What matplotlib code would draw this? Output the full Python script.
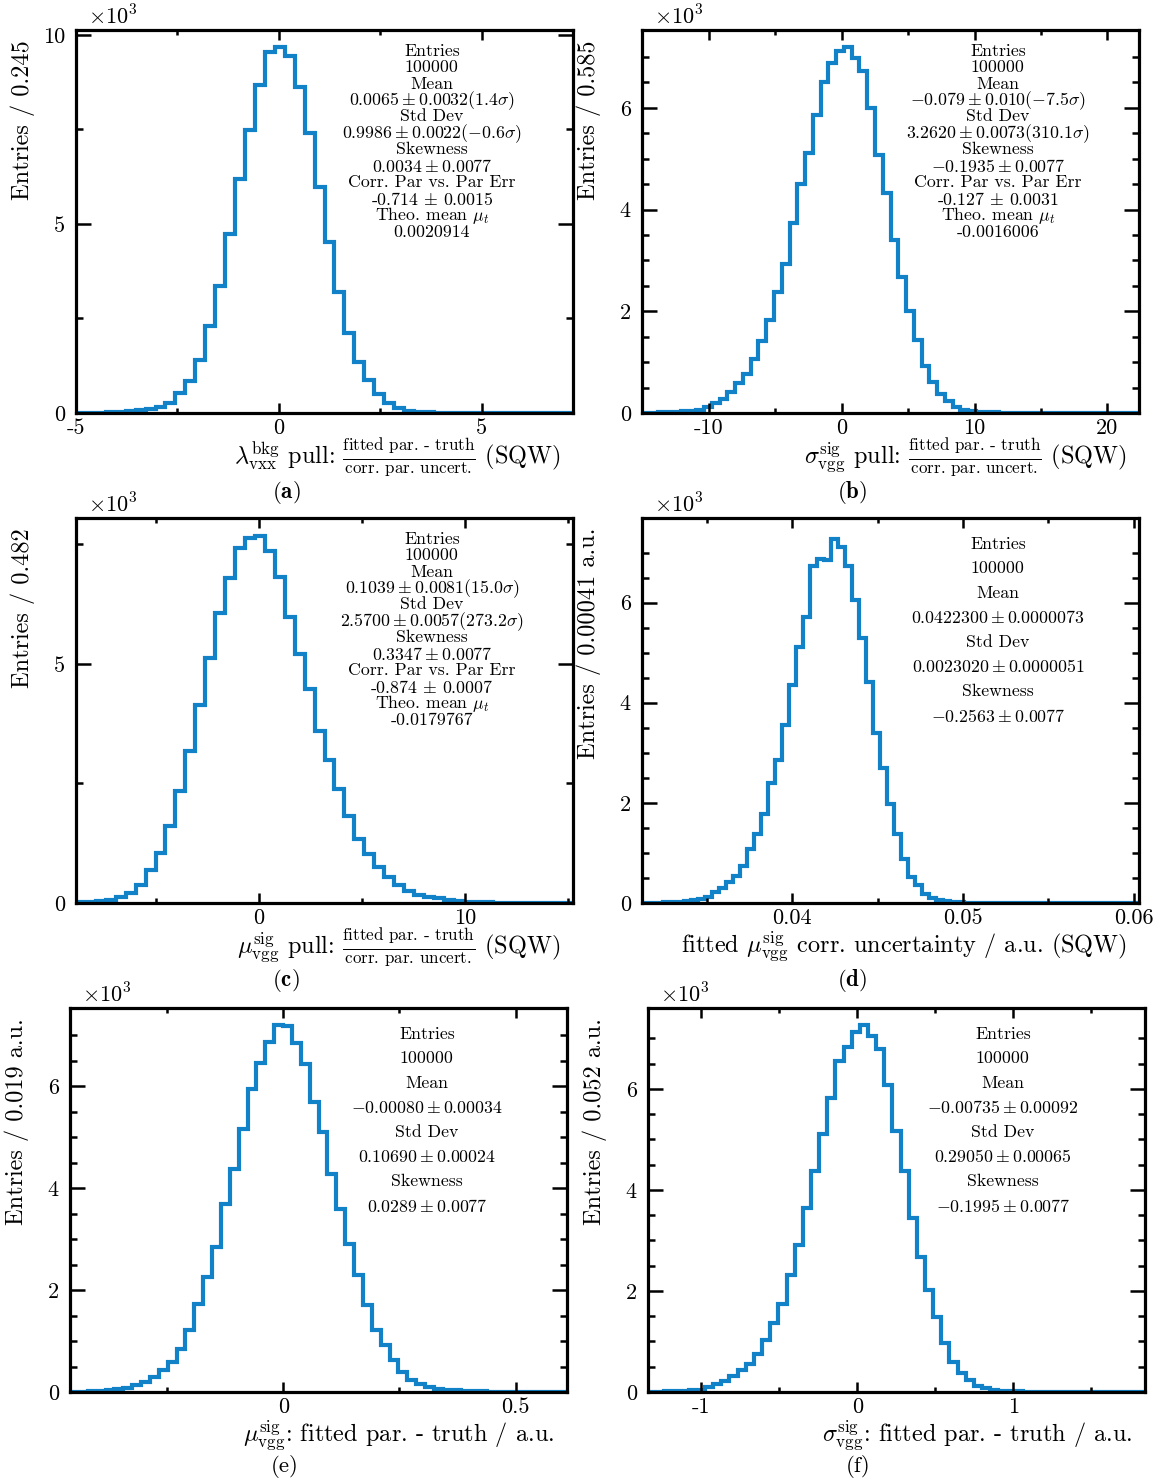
import matplotlib
matplotlib.use("Agg")
import matplotlib.pyplot as plt
import numpy as np

plt.rcParams["font.family"] = "cmr10"
plt.rcParams["mathtext.fontset"] = "cm"
plt.rcParams["axes.unicode_minus"] = False
plt.rcParams["axes.formatter.use_mathtext"] = True

W, H = 1171, 1481
BLUE = "#1282c8"

# ---------------------------------------------------------------------------
# data: entries per bin (x 10^3), first bin edge and bin width
# ---------------------------------------------------------------------------
a_counts = [0.003, 0.005, 0.01, 0.02, 0.03, 0.04,
            0.08, 0.1, 0.17, 0.26, 0.52, 0.85, 1.40, 2.30, 3.36, 4.73,
            6.20, 7.49, 8.68, 9.56, 9.67, 9.43, 8.61, 7.40, 5.97, 4.53,
            3.21, 2.11, 1.36, 0.87, 0.49, 0.26, 0.12, 0.05,
            0.03, 0.02, 0.01, 0.005, 0.003, 0.002, 0.001, 0.001,
            0, 0, 0, 0, 0, 0, 0, 0]
a_xmin, a_binw = -5.0, 0.245

b_counts = [0.005, 0.008, 0.01, 0.015, 0.02, 0.03, 0.04, 0.06,
            0.12, 0.2, 0.28, 0.41, 0.58, 0.77, 1.07, 1.41, 1.82, 2.37,
            2.93, 3.73, 4.5, 5.12, 5.85, 6.5, 6.88, 7.11, 7.19, 6.98,
            6.73, 6.0, 5.07, 4.32, 3.4, 2.68, 2.0, 1.44, 0.93, 0.6,
            0.37, 0.24, 0.12, 0.06, 0.03,
            0.02, 0.01, 0.01, 0.005, 0.003, 0.002, 0.001, 0.001,
            0, 0, 0, 0, 0, 0, 0, 0, 0, 0, 0, 0, 0]
b_xmin, b_binw = -15.05, 0.585

c_counts = [0.02, 0.03, 0.04, 0.06, 0.13, 0.2, 0.38, 0.68, 1.04, 1.6,
            2.35, 3.18, 4.14, 5.12, 6.06, 6.8, 7.42, 7.63, 7.68, 7.36,
            6.81, 5.99, 5.21, 4.47, 3.6, 2.98, 2.38, 1.82, 1.33, 1.02,
            0.76, 0.54, 0.38, 0.25, 0.17, 0.13, 0.1, 0.06,
            0.04, 0.03, 0.02, 0.015, 0.01, 0.01, 0.005, 0.005, 0.003,
            0.002, 0.001, 0.001]
c_xmin, c_binw = -8.88, 0.482

d_counts = [0.003, 0.005, 0.008, 0.01, 0.015, 0.02, 0.03, 0.05, 0.08,
            0.11, 0.21, 0.29, 0.41, 0.53, 0.74, 1.08, 1.37, 1.77, 2.4,
            2.86, 3.55, 4.35, 5.11, 5.72, 6.74, 6.87, 6.85, 7.28, 7.12,
            6.74, 6.06, 5.29, 4.42, 3.4, 2.69, 1.97, 1.37, 0.88, 0.51,
            0.36, 0.18, 0.1, 0.05,
            0.03, 0.02, 0.01, 0.005, 0.003, 0.002, 0.001,
            0, 0, 0, 0, 0, 0, 0, 0, 0, 0, 0, 0, 0, 0, 0, 0, 0, 0, 0, 0, 0]
d_xmin, d_binw = 0.0312, 0.00041

e_counts = [0.003, 0.005, 0.01, 0.02, 0.03, 0.05,
            0.085, 0.13, 0.2, 0.29, 0.44, 0.59, 0.85, 1.21, 1.73, 2.26,
            2.85, 3.68, 4.38, 5.16, 5.95, 6.46, 6.87, 7.19, 7.17, 6.85,
            6.44, 5.69, 5.09, 4.28, 3.58, 2.91, 2.29, 1.7, 1.21, 0.92,
            0.62, 0.39, 0.23, 0.16, 0.1, 0.065,
            0.04, 0.03, 0.02, 0.015, 0.01, 0.008, 0.005, 0.004, 0.003,
            0.002, 0.001, 0.001, 0, 0]
e_xmin, e_binw = -0.459, 0.0191

f_counts = [0.005, 0.008, 0.01, 0.015, 0.02, 0.03, 0.04,
            0.09, 0.15, 0.22, 0.31, 0.43, 0.55, 0.75, 1.02, 1.36, 1.75,
            2.31, 2.91, 3.65, 4.38, 5.11, 5.82, 6.56, 6.83, 7.12, 7.27,
            7.05, 6.79, 6.08, 5.16, 4.38, 3.44, 2.68, 2.02, 1.49, 0.97,
            0.59, 0.38, 0.23, 0.11, 0.07,
            0.03, 0.02, 0.01, 0.01, 0.005, 0.003, 0.002, 0.001, 0.001,
            0, 0, 0, 0, 0, 0, 0, 0, 0, 0]
f_xmin, f_binw = -1.342, 0.05223

# ticks
a_xticks, a_xlabels, a_xminor = [-5, 0, 5], ["-5", "0", "5"], [-2.5, 2.5]
b_xticks, b_xlabels, b_xminor = [-10, 0, 10, 20], ["-10", "0", "10", "20"], [-5, 5, 15]
c_xticks, c_xlabels, c_xminor = [0, 10], ["0", "10"], [-5, 5, 15]
d_xticks, d_xlabels, d_xminor = [0.04, 0.05, 0.06], ["0.04", "0.05", "0.06"], [0.035, 0.045, 0.055]
e_xticks, e_xlabels, e_xminor = [0, 0.5], ["0", "0.5"], [-0.25, 0.25]
f_xticks, f_xlabels, f_xminor = [-1, 0, 1], ["-1", "0", "1"], [-0.5, 0.5, 1.5]

y10_ticks, y10_labels, y10_minor = [0, 5, 10], ["0", "5", "10"], [2.5, 7.5]
y6_ticks, y6_labels = [0, 2, 4, 6], ["0", "2", "4", "6"]
y6_minor = [0.5, 1, 1.5, 2.5, 3, 3.5, 4.5, 5, 5.5, 6.5, 7]

# axis titles
frac = r"$\frac{\text{fitted par. - truth}}{\text{corr. par. uncert.}}$"
a_xtitle = r"$\lambda^{\mathrm{bkg}}_{\mathrm{vxx}}$ pull: " + frac + " (SQW)"
b_xtitle = r"$\sigma^{\mathrm{sig}}_{\mathrm{vgg}}$ pull: " + frac + " (SQW)"
c_xtitle = r"$\mu^{\mathrm{sig}}_{\mathrm{vgg}}$ pull: " + frac + " (SQW)"
d_xtitle = r"fitted $\mu^{\mathrm{sig}}_{\mathrm{vgg}}$ corr. uncertainty / a.u. (SQW)"
e_xtitle = r"$\mu^{\mathrm{sig}}_{\mathrm{vgg}}$: fitted par. - truth / a.u."
f_xtitle = r"$\sigma^{\mathrm{sig}}_{\mathrm{vgg}}$: fitted par. - truth / a.u."

a_ytitle = "Entries / 0.245"
b_ytitle = "Entries / 0.585"
c_ytitle = "Entries / 0.482"
d_ytitle = "Entries / 0.00041 a.u."
e_ytitle = "Entries / 0.019 a.u."
f_ytitle = "Entries / 0.052 a.u."

# statistics boxes
a_stats = ["Entries", "100000", "Mean", r"$0.0065 \pm 0.0032(1.4\sigma)$",
           "Std Dev", r"$0.9986 \pm 0.0022(-0.6\sigma)$",
           "Skewness", r"$0.0034 \pm 0.0077$",
           "Corr. Par vs. Par Err", r"-0.714 $\pm$ 0.0015",
           r"Theo. mean $\mu_t$", "0.0020914"]
b_stats = ["Entries", "100000", "Mean", r"$-0.079 \pm 0.010(-7.5\sigma)$",
           "Std Dev", r"$3.2620 \pm 0.0073(310.1\sigma)$",
           "Skewness", r"$-0.1935 \pm 0.0077$",
           "Corr. Par vs. Par Err", r"-0.127 $\pm$ 0.0031",
           r"Theo. mean $\mu_t$", "-0.0016006"]
c_stats = ["Entries", "100000", "Mean", r"$0.1039 \pm 0.0081(15.0\sigma)$",
           "Std Dev", r"$2.5700 \pm 0.0057(273.2\sigma)$",
           "Skewness", r"$0.3347 \pm 0.0077$",
           "Corr. Par vs. Par Err", r"-0.874 $\pm$ 0.0007",
           r"Theo. mean $\mu_t$", "-0.0179767"]
d_stats = ["Entries", "100000", "Mean", r"$0.0422300 \pm 0.0000073$",
           "Std Dev", r"$0.0023020 \pm 0.0000051$",
           "Skewness", r"$-0.2563 \pm 0.0077$"]
e_stats = ["Entries", "100000", "Mean", r"$-0.00080 \pm 0.00034$",
           "Std Dev", r"$0.10690 \pm 0.00024$",
           "Skewness", r"$0.0289 \pm 0.0077$"]
f_stats = ["Entries", "100000", "Mean", r"$-0.00735 \pm 0.00092$",
           "Std Dev", r"$0.29050 \pm 0.00065$",
           "Skewness", r"$-0.1995 \pm 0.0077$"]

# ---------------------------------------------------------------------------
# layout (pixels): left, top, right, bottom of each frame
# ---------------------------------------------------------------------------
panels = [
    dict(box=(76, 30, 573, 413), counts=a_counts, xmin=a_xmin, w=a_binw,
         ytop=10.13, xt=(a_xticks, a_xlabels, a_xminor),
         yt=(y10_ticks, y10_labels, y10_minor), xtitle=a_xtitle,
         ytitle=a_ytitle, stats=a_stats, sx=0.716, cap=(286, 492), tag="a"),
    dict(box=(642, 30, 1139, 413), counts=b_counts, xmin=b_xmin, w=b_binw,
         ytop=7.53, xt=(b_xticks, b_xlabels, b_xminor),
         yt=(y6_ticks, y6_labels, y6_minor), xtitle=b_xtitle,
         ytitle=b_ytitle, stats=b_stats, sx=0.716, cap=(852, 492), tag="b"),
    dict(box=(76, 518, 573, 903), counts=c_counts, xmin=c_xmin, w=c_binw,
         ytop=8.05, xt=(c_xticks, c_xlabels, c_xminor),
         yt=(y10_ticks, y10_labels, y10_minor), xtitle=c_xtitle,
         ytitle=c_ytitle, stats=c_stats, sx=0.716, cap=(286, 981), tag="c"),
    dict(box=(642, 518, 1139, 903), counts=d_counts, xmin=d_xmin, w=d_binw,
         ytop=7.69, xt=(d_xticks, d_xlabels, d_xminor),
         yt=(y6_ticks, y6_labels, y6_minor), xtitle=d_xtitle,
         ytitle=d_ytitle, stats=d_stats, sx=0.716, cap=(852, 981), tag="d"),
    dict(box=(70, 1008, 567, 1392), counts=e_counts, xmin=e_xmin, w=e_binw,
         ytop=7.53, xt=(e_xticks, e_xlabels, e_xminor),
         yt=(y6_ticks, y6_labels, y6_minor), xtitle=e_xtitle,
         ytitle=e_ytitle, stats=e_stats, sx=0.718, cap=(285, 1466), tag="e"),
    dict(box=(648, 1008, 1145, 1392), counts=f_counts, xmin=f_xmin, w=f_binw,
         ytop=7.6, xt=(f_xticks, f_xlabels, f_xminor),
         yt=(y6_ticks, y6_labels, y6_minor), xtitle=f_xtitle,
         ytitle=f_ytitle, stats=f_stats, sx=0.714, cap=(858, 1466), tag="f"),
]

fig = plt.figure(figsize=(W / 100, H / 100), dpi=100)

for p in panels:
    l, t, r, b = p["box"]
    ax = fig.add_axes([l / W, 1 - b / H, (r - l) / W, (b - t) / H])
    hpx = b - t
    counts = np.asarray(p["counts"], dtype=float)
    edges = p["xmin"] + p["w"] * np.arange(len(counts) + 1)
    ax.stairs(counts, edges, color=BLUE, lw=3.0, baseline=None)

    xt, xl, xm = p["xt"]
    ax.set_xticks(xt)
    ax.set_xticklabels(xl)
    ax.set_xticks(xm, minor=True)
    yt, yl, ym = p["yt"]
    ax.set_yticks(yt)
    ax.set_yticklabels(yl)
    ax.set_yticks(ym, minor=True)
    ax.set_xlim(edges[0], edges[-1])
    ax.set_ylim(0, p["ytop"])

    for s in ax.spines.values():
        s.set_linewidth(2.3)
    ax.tick_params(which="both", direction="in", top=True, right=True,
                   width=1.8, labelsize=16)
    ax.tick_params(axis="x", which="major", length=7.5, pad=4)
    ax.tick_params(axis="x", which="minor", length=3.8)
    ax.tick_params(axis="y", which="major", length=10.5, pad=8)
    ax.tick_params(axis="y", which="minor", length=5)

    # x10^3 multiplier
    ax.text(0.024, 1.004, r"$\times10^{3}$", transform=ax.transAxes,
            ha="left", va="bottom", fontsize=16)

    # axis titles (ROOT style: right / top aligned)
    ax.text(0.975, -44 / hpx, p["xtitle"], transform=ax.transAxes,
            ha="right", va="center", fontsize=17.5)
    ax.text(-53 / (r - l), 1 - 10 / hpx, p["ytitle"], transform=ax.transAxes,
            rotation=90, ha="center", va="top", fontsize=17.5)

    # statistics text
    n = len(p["stats"])
    if n > 8:
        y0, step = 21.0, 16.45
    else:
        y0, step = 26.0, 24.6
    for i, line in enumerate(p["stats"]):
        ax.text(p["sx"], 1 - (y0 + i * step) / hpx, line,
                transform=ax.transAxes, ha="center", va="center",
                fontsize=12.8)

    # sub-caption
    cx, cy = p["cap"]
    if p["tag"] in ("a", "b", "c", "d"):
        cap = r"$\mathbf{(" + p["tag"] + r")}$"
    else:
        cap = "(" + p["tag"] + ")"
    fig.text(cx / W, 1 - cy / H, cap, ha="center", va="center", fontsize=16.5)

fig.savefig("out.png", dpi=100)
